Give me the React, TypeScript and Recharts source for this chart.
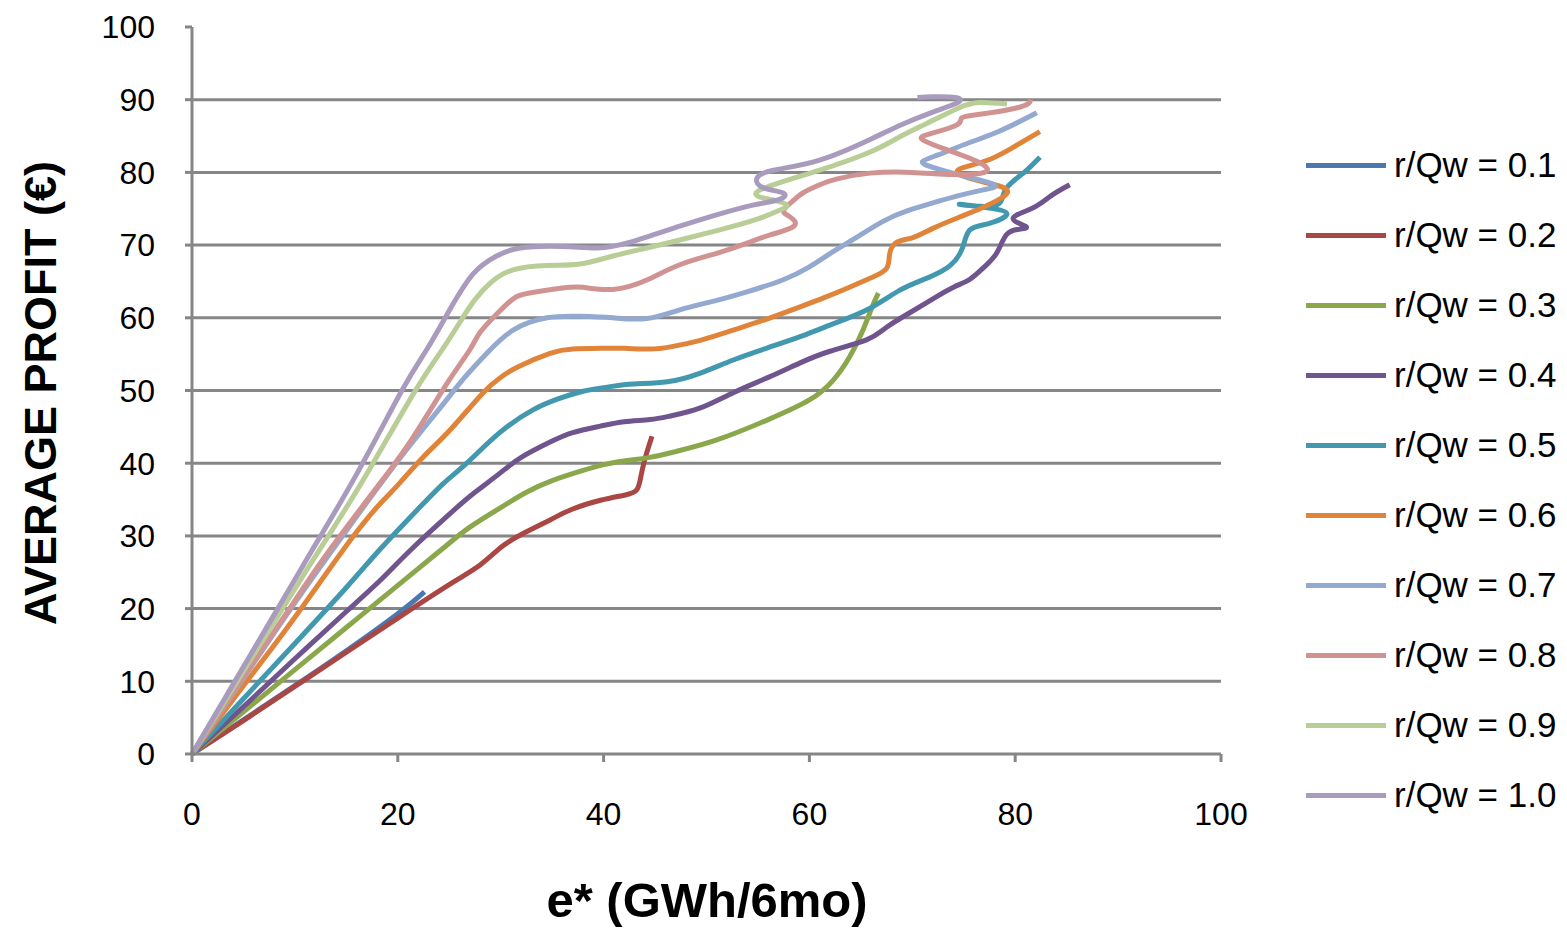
import React from "react";
import { LineChart, Line, XAxis, YAxis, CartesianGrid, Legend } from "recharts";

// e* (GWh/6mo) vs average profit, one curve per r/Qw ratio
const q01 = [[0, 0], [5, 4.7], [10, 9.4], [15, 14.2], [20, 19.3], [22.6, 22.3]];
const q02 = [[0, 0], [5, 4.6], [10, 9.3], [15, 14], [20, 18.7], [25, 23.3], [28, 26], [30, 28.4], [32, 30.2], [34.8, 32.2], [37, 33.7], [39.7, 34.9], [42, 35.6], [43.2, 36.3], [43.6, 38], [44, 40.5], [44.7, 43.7]];
const q03 = [[0, 0], [5, 5.8], [10, 11.6], [15, 17.4], [20, 23.2], [24.4, 28.3], [27, 31.2], [30, 33.9], [32.5, 36], [35, 37.6], [38, 39], [40, 39.8], [42, 40.3], [44.5, 40.8], [47, 41.6], [51, 43.2], [56, 46], [60, 48.7], [62.3, 51.4], [63.9, 54.6], [65.2, 58.3], [66.1, 61.5], [66.7, 63.4]];
const q04 = [[0, 0], [5, 6.5], [10, 13.1], [15, 19.6], [18.3, 23.9], [21.2, 28], [25.1, 33.1], [27.5, 36], [29.9, 38.6], [32, 40.8], [34.8, 42.9], [37, 44.2], [39.7, 45.1], [42, 45.7], [44.5, 46], [46.5, 46.5], [49.4, 47.6], [52.6, 49.7], [56, 51.8], [59.1, 53.8], [62, 55.4], [65.6, 57], [67.5, 58.7], [70, 60.9], [72, 62.6], [74, 64.2], [75.6, 65.3], [77, 67], [78.2, 68.9], [79.2, 71.5], [80.5, 72.2], [81, 72.6], [79.8, 73.7], [81.7, 75.1], [83.5, 76.8], [85.3, 78.3]];
const q05 = [[0, 0], [5, 7.6], [10, 15.2], [15, 22.9], [18.3, 28.2], [21.9, 33.6], [24.5, 37.3], [26.7, 40], [29.9, 44.2], [33.1, 47.3], [35.5, 48.8], [38, 49.9], [40.5, 50.5], [42.9, 50.9], [46.2, 51.2], [49.4, 52.4], [52.6, 54.2], [56, 55.9], [59.1, 57.4], [62, 59], [65.6, 61.1], [68.8, 63.8], [71.5, 65.5], [73.7, 67.2], [74.9, 69.7], [75.6, 72.1], [77.5, 73], [79.2, 74.3], [77, 75.2], [74.6, 75.6], [77.9, 75.4], [79, 77.5], [80.7, 79.8], [82.4, 82.1]];
const q06 = [[0, 0], [5, 9.4], [10, 18.8], [15.6, 29.8], [18.6, 34.9], [20.2, 37.3], [22.5, 40.9], [25.1, 44.6], [28.3, 49.7], [30, 51.8], [31.6, 53.2], [34.8, 55.1], [37, 55.7], [39.7, 55.8], [42, 55.8], [44.5, 55.7], [46.5, 56], [49.4, 56.9], [52.6, 58.3], [56, 59.9], [59.1, 61.5], [61.5, 62.8], [63.9, 64.2], [66, 65.5], [67.5, 66.8], [67.8, 68.8], [68.5, 70.4], [70, 71], [72, 72.3], [74.5, 73.8], [76.9, 75.2], [79.2, 77.1], [78, 78.3], [75.3, 79.3], [74.5, 80.4], [77, 81.5], [79.5, 83.2], [82.4, 85.6]];
const q07 = [[0, 0], [5, 10.4], [10, 20.8], [15.4, 31.5], [20, 40.3], [24, 47.4], [26.5, 51.8], [28.7, 55.2], [31.2, 58.3], [34.5, 60], [37.7, 60.2], [40.9, 60], [44.2, 59.9], [47.4, 61.1], [51, 62.4], [54, 63.6], [57.4, 65.2], [60, 67], [62.3, 69.1], [64.5, 71], [67.2, 73.3], [69.5, 74.7], [72, 75.8], [74.5, 76.8], [76.9, 77.6], [78, 78.3], [75, 79.5], [72, 80.7], [71, 81.5], [72.5, 82.4], [75, 83.8], [78.5, 85.7], [82.1, 88.2]];
const q08 = [[0, 0], [5, 10.6], [10, 21.1], [13.4, 28.1], [18.3, 37.3], [21.5, 43.6], [24.8, 51], [27, 55.6], [28, 58], [29.6, 60.5], [31.2, 62.6], [32.8, 63.4], [36, 64.1], [38, 64.2], [40.9, 63.9], [44.2, 65.2], [47.4, 67.3], [51.3, 69], [54, 70.3], [56.2, 71.4], [58.5, 72.6], [58.1, 73.9], [57.5, 74.8], [58.5, 76.2], [59.4, 77.2], [61, 78.3], [62.7, 79.1], [65.9, 79.9], [70, 80], [74, 79.7], [77, 80], [76.6, 81.3], [73.4, 83.1], [71, 84.5], [71.7, 85.3], [74.3, 86.5], [74.8, 87.5], [76.6, 88], [80.5, 89], [81.5, 90]];
const q09 = [[0, 0], [5, 11.4], [10, 22.7], [12.4, 28.1], [16.6, 37.6], [21.5, 49.5], [24.4, 55.8], [26.3, 60], [27.5, 62.5], [29, 64.8], [31.2, 66.6], [34.5, 67.2], [37.7, 67.4], [40.9, 68.5], [44.2, 69.6], [47.4, 70.7], [51.3, 72.1], [55, 73.6], [57.1, 74.8], [57.8, 75.5], [56.5, 76.2], [55.2, 76.6], [54.9, 77.3], [56.9, 78.5], [61, 80.3], [65.9, 82.8], [68.8, 84.9], [71.5, 86.8], [74.4, 88.8], [76.5, 89.6], [79.2, 89.4]];
const q10 = [[0, 0], [5, 12], [10, 24], [11.7, 28.1], [16, 38.5], [20.4, 50], [22.8, 55.6], [24.8, 60.5], [27.3, 66], [29.6, 68.5], [31.9, 69.6], [36, 69.8], [39.4, 69.6], [42.6, 70.4], [47.4, 72.6], [51.3, 74.3], [54.5, 75.5], [57.1, 76.3], [57.4, 77.2], [55.5, 77.9], [54.9, 79.2], [56.5, 80.3], [61, 81.7], [66, 84.6], [69, 86.6], [72, 88.3], [74.4, 89.6], [74.2, 90.3], [72, 90.4], [70.5, 90.3]];

const SERIES_NAMES = ["r/Qw = 0.1", "r/Qw = 0.2", "r/Qw = 0.3", "r/Qw = 0.4", "r/Qw = 0.5", "r/Qw = 0.6", "r/Qw = 0.7", "r/Qw = 0.8", "r/Qw = 0.9", "r/Qw = 1.0"];
const SERIES_DATA = [q01, q02, q03, q04, q05, q06, q07, q08, q09, q10];
const COLORS = ["#4A78B0", "#AA4643", "#8AA84B", "#6F548E", "#4198AF", "#E0843A", "#93A9CF", "#D19392", "#B9CD96", "#A99BBD"];

const X_TICKS = [0, 20, 40, 60, 80, 100];
const Y_TICKS = [0, 10, 20, 30, 40, 50, 60, 70, 80, 90, 100];
const GRID_VALUES = [10, 20, 30, 40, 50, 60, 70, 80, 90];

const FONT = "'Liberation Sans', Arial, sans-serif";
const GRAY = "#868686";

const toPoints = (pairs: number[][]) => pairs.map(([x, y]) => ({ x, y }));

function LegendList({ payload }: any) {
  return (
    <div style={{ fontFamily: FONT }}>
      {(payload || []).map((p: any) => (
        <div key={p.value} style={{ display: "flex", alignItems: "center", height: 70 }}>
          <span style={{ display: "inline-block", width: 80, height: 5, background: p.color }} />
          <span style={{ marginLeft: 8, fontSize: 35, color: "#000", whiteSpace: "nowrap" }}>{p.value}</span>
        </div>
      ))}
    </div>
  );
}

export default function App() {
  return (
    <div style={{ position: "absolute", left: 0, top: 0, background: "#fff" }}>
      <LineChart width={1567} height={930} margin={{ top: 27, right: 346, bottom: 0, left: 0 }}>
        <CartesianGrid vertical={false} horizontalValues={GRID_VALUES} stroke={GRAY} strokeWidth={3} />
        <XAxis
          dataKey="x"
          type="number"
          domain={[0, 100]}
          ticks={X_TICKS}
          height={176}
          axisLine={{ stroke: GRAY, strokeWidth: 3 }}
          tickLine={{ stroke: GRAY, strokeWidth: 3 }}
          tickSize={8}
          tickMargin={40}
          tick={{ fill: "#000", fontSize: 32, fontFamily: FONT }}
          label={{
            content: () => (
              <text x={707} y={900} textAnchor="middle" dominantBaseline="central" fontSize={49} fontWeight="bold" fontFamily={FONT} fill="#000">
                e* (GWh/6mo)
              </text>
            ),
          }}
        />
        <YAxis
          type="number"
          domain={[0, 100]}
          ticks={Y_TICKS}
          width={192}
          axisLine={{ stroke: GRAY, strokeWidth: 3 }}
          tickLine={{ stroke: GRAY, strokeWidth: 3 }}
          tickSize={7}
          tickMargin={30}
          tick={{ fill: "#000", fontSize: 32, fontFamily: FONT }}
          label={{
            content: () => (
              <text x={40} y={393} transform="rotate(-90 40 393)" textAnchor="middle" dominantBaseline="central" fontSize={45} fontWeight="bold" fontFamily={FONT} fill="#000">
                AVERAGE PROFIT (€)
              </text>
            ),
          }}
        />
        <Legend
          layout="vertical"
          align="center"
          verticalAlign="middle"
          wrapperStyle={{ left: 1306, top: 130, width: 261 }}
          content={(props: any) => <LegendList payload={props.payload} />}
        />
        {SERIES_DATA.map((series, i) => (
          <Line
            key={SERIES_NAMES[i]}
            name={SERIES_NAMES[i]}
            data={toPoints(series)}
            dataKey="y"
            type="natural"
            stroke={COLORS[i]}
            strokeWidth={5}
            strokeLinejoin="round"
            dot={false}
            activeDot={false}
            isAnimationActive={false}
          />
        ))}
      </LineChart>
    </div>
  );
}
